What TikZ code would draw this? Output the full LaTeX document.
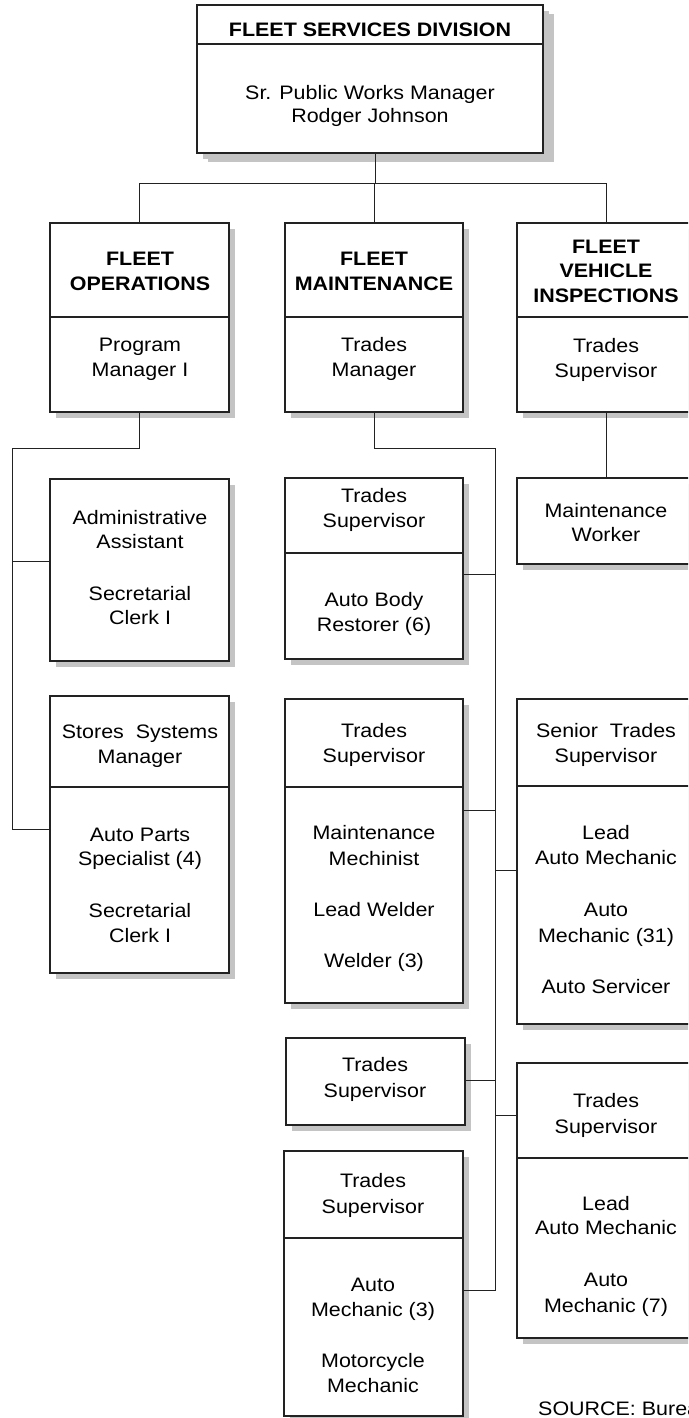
\documentclass[tikz,border=0pt]{standalone}
\usepackage{fontspec}
\setmainfont{Liberation Sans}[FakeStretch=1.1]
\usetikzlibrary{shadows}
\definecolor{linecol}{HTML}{222222}
\definecolor{shadowcol}{HTML}{C4C4C4}
\newcommand\fsz{\fontsize{19.5pt}{24pt}\selectfont}
\newcommand\tl[4]{\node[txt] (#1) at (#2,#3) {#4};}
\tikzset{
  orgbox/.style={draw=linecol, line width=1.5pt, fill=white, rectangle, inner sep=0pt, outer sep=0pt, anchor=north west,
    drop shadow={shadow xshift=6pt, shadow yshift=-6pt, fill=shadowcol, opacity=1}},
  bigshadow/.style={drop shadow={shadow xshift=11pt, shadow yshift=-9pt, fill=shadowcol, opacity=1}},
  divider/.style={draw=linecol, line width=1.3pt},
  conn/.style={draw=linecol, line width=1pt},
  txt/.style={anchor=base, inner sep=0pt, font=\fsz},
}
\begin{document}
\begin{tikzpicture}[x=1pt, y=-1pt]
\useasboundingbox (0,0) rectangle (688,1418);
\clip (0,0) rectangle (688,1418);
\fill[white] (0,0) rectangle (688,1418);

% boxes
\node[orgbox, bigshadow, minimum width=346pt, minimum height=148pt] (top) at (197,5) {};
\node[orgbox, minimum width=179pt, minimum height=189pt] (b1) at (50,223) {};
\node[orgbox, minimum width=178pt, minimum height=189pt] (b2) at (285,223) {};
\node[orgbox, minimum width=179pt, minimum height=189pt] (b3) at (517,223) {};
\node[orgbox, minimum width=179pt, minimum height=182pt] (admin) at (50,479) {};
\node[orgbox, minimum width=179pt, minimum height=277pt] (stores) at (50,696) {};
\node[orgbox, minimum width=178pt, minimum height=181pt] (ts1) at (285,478) {};
\node[orgbox, minimum width=179pt, minimum height=86pt] (mw) at (517,478) {};
\node[orgbox, minimum width=178pt, minimum height=304pt] (ts2) at (285,699) {};
\node[orgbox, minimum width=179pt, minimum height=325pt] (sts) at (517,699) {};
\node[orgbox, minimum width=179pt, minimum height=87pt] (ts3) at (286,1038) {};
\node[orgbox, minimum width=179pt, minimum height=275pt] (ts4) at (517,1063) {};
\node[orgbox, minimum width=179pt, minimum height=265pt] (ts5) at (284,1151) {};

% dividers
\draw[divider] (top.west |- 0,44) -- (top.east |- 0,44);
\draw[divider] (b1.west |- 0,317) -- (b1.east |- 0,317);
\draw[divider] (b2.west |- 0,317) -- (b2.east |- 0,317);
\draw[divider] (b3.west |- 0,317) -- (b3.east |- 0,317);
\draw[divider] (stores.west |- 0,787) -- (stores.east |- 0,787);
\draw[divider] (ts1.west |- 0,553) -- (ts1.east |- 0,553);
\draw[divider] (ts2.west |- 0,787) -- (ts2.east |- 0,787);
\draw[divider] (sts.west |- 0,786) -- (sts.east |- 0,786);
\draw[divider] (ts4.west |- 0,1158) -- (ts4.east |- 0,1158);
\draw[divider] (ts5.west |- 0,1238) -- (ts5.east |- 0,1238);

% connectors
\coordinate (topbus) at (375,183);
\draw[conn] (top.south -| topbus) -- (topbus);
\draw[conn] (b1.north) -- (b1.north |- topbus) -- (b3.north |- topbus) -- (b3.north);
\draw[conn] (b2.north |- topbus) -- (b2.north);
\draw[conn] (b3.south) -- (mw.north);

\coordinate (lbus) at (12,448);
\coordinate (lend) at (12,829);
\draw[conn] (b1.south) -- (b1.south |- lbus) -- (lbus) -- (lend) -- (stores.west |- lend);
\coordinate (ladm) at (12,561);
\draw[conn] (ladm) -- (admin.west |- ladm);

\coordinate (mbus) at (495,448);
\coordinate (mend) at (495,1290);
\draw[conn] (b2.south) -- (b2.south |- mbus) -- (mbus) -- (mend) -- (ts5.east |- mend);
\coordinate (m1) at (495,574);
\coordinate (m2) at (495,810);
\coordinate (m3) at (495,870);
\coordinate (m4) at (495,1080);
\coordinate (m5) at (495,1115);
\draw[conn] (ts1.east |- m1) -- (m1);
\draw[conn] (ts2.east |- m2) -- (m2);
\draw[conn] (m3) -- (sts.west |- m3);
\draw[conn] (ts3.east |- m4) -- (m4);
\draw[conn] (m5) -- (ts4.west |- m5);

% texts
\tl{t0a}{370}{37}{\textbf{FLEET SERVICES DIVISION}}
\tl{t0b}{370}{100}{Sr. Public Works Manager}
\tl{t0c}{370}{123}{Rodger Johnson}

\tl{t1a}{140}{265}{\textbf{FLEET}}
\tl{t1b}{140}{290}{\textbf{OPERATIONS}}
\tl{t1c}{140}{351}{Program}
\tl{t1d}{140}{376}{Manager I}

\tl{t2a}{374}{265}{\textbf{FLEET}}
\tl{t2b}{374}{290}{\textbf{MAINTENANCE}}
\tl{t2c}{374}{351}{Trades}
\tl{t2d}{374}{376}{Manager}

\tl{t3a}{606}{253}{\textbf{FLEET}}
\tl{t3b}{606}{277}{\textbf{VEHICLE}}
\tl{t3c}{606}{302}{\textbf{INSPECTIONS}}
\tl{t3d}{606}{352}{Trades}
\tl{t3e}{606}{377}{Supervisor}

\tl{t4a}{140}{524}{Administrative}
\tl{t4b}{140}{548}{Assistant}
\tl{t4c}{140}{600}{Secretarial}
\tl{t4d}{140}{624}{Clerk I}

\tl{t5a}{140}{738}{Stores\ \ Systems}
\tl{t5b}{140}{763}{Manager}
\tl{t5c}{140}{841}{Auto Parts}
\tl{t5d}{140}{865}{Specialist (4)}
\tl{t5e}{140}{917}{Secretarial}
\tl{t5f}{140}{942}{Clerk I}

\tl{t6a}{374}{502}{Trades}
\tl{t6b}{374}{527}{Supervisor}
\tl{t6c}{374}{606}{Auto Body}
\tl{t6d}{374}{631}{Restorer (6)}

\tl{t7a}{606}{517}{Maintenance}
\tl{t7b}{606}{541}{Worker}

\tl{t8a}{374}{737}{Trades}
\tl{t8b}{374}{762}{Supervisor}
\tl{t8c}{374}{839}{Maintenance}
\tl{t8d}{374}{865}{Mechinist}
\tl{t8e}{374}{916}{Lead Welder}
\tl{t8f}{374}{967}{Welder (3)}

\tl{t9a}{606}{737}{Senior\ \ Trades}
\tl{t9b}{606}{762}{Supervisor}
\tl{t9c}{606}{839}{Lead}
\tl{t9d}{606}{864}{Auto Mechanic}
\tl{t9e}{606}{916}{Auto}
\tl{t9f}{606}{942}{Mechanic (31)}
\tl{t9g}{606}{993}{Auto Servicer}

\tl{t10a}{375}{1071}{Trades}
\tl{t10b}{375}{1097}{Supervisor}

\tl{t11a}{606}{1107}{Trades}
\tl{t11b}{606}{1133}{Supervisor}
\tl{t11c}{606}{1210}{Lead}
\tl{t11d}{606}{1234}{Auto Mechanic}
\tl{t11e}{606}{1286}{Auto}
\tl{t11f}{606}{1312}{Mechanic (7)}

\tl{t12a}{373}{1187}{Trades}
\tl{t12b}{373}{1213}{Supervisor}
\tl{t12c}{373}{1291}{Auto}
\tl{t12d}{373}{1316}{Mechanic (3)}
\tl{t12e}{373}{1367}{Motorcycle}
\tl{t12f}{373}{1392}{Mechanic}

\node[txt, anchor=base west] (src) at (538,1415) {SOURCE: Bureau};
\end{tikzpicture}
\end{document}
